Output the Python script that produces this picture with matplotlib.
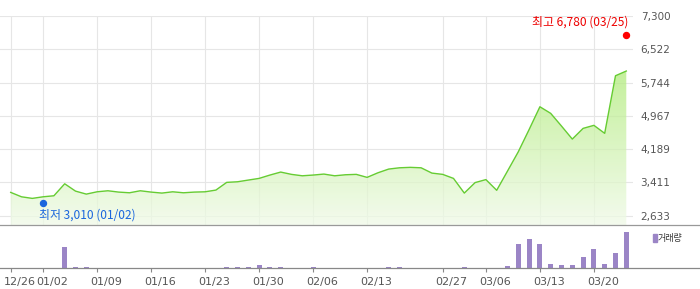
import numpy as np
import matplotlib
matplotlib.use("Agg")
import matplotlib.pyplot as plt
from matplotlib.colors import LinearSegmentedColormap
from matplotlib.patches import Rectangle
from matplotlib.transforms import offset_copy, ScaledTranslation

plt.rcParams['font.family'] = ['DejaVu Sans', 'Noto Sans CJK KR']

# trading days shown on the chart
dates = ["12/26", "12/27", "12/30", "01/02", "01/03", "01/06", "01/07", "01/08",
         "01/09", "01/10", "01/13", "01/14", "01/15", "01/16", "01/17", "01/20",
         "01/21", "01/22", "01/23", "01/24", "01/27", "01/28", "01/29", "01/30",
         "01/31", "02/03", "02/04", "02/05", "02/06", "02/07", "02/10", "02/11",
         "02/12", "02/13", "02/14", "02/17", "02/18", "02/24", "02/25", "02/26",
         "02/27", "02/28", "03/04", "03/05", "03/06", "03/07", "03/10", "03/11",
         "03/12", "03/13", "03/14", "03/17", "03/18", "03/19", "03/20", "03/21",
         "03/24", "03/25"]

close = [3178, 3075, 3038, 3075, 3099, 3379, 3208, 3138, 3192, 3216,
         3185, 3169, 3216, 3185, 3162, 3192, 3169, 3185, 3192, 3232,
         3412, 3426, 3466, 3505, 3583, 3653, 3599, 3566, 3583, 3606,
         3566, 3590, 3599, 3529, 3636, 3723, 3753, 3763, 3753, 3629,
         3599, 3505, 3162, 3407, 3477, 3227, 3676, 4127, 4646, 5179,
         5025, 4728, 4424, 4674, 4745, 4558, 5904, 6014]

volume = [0, 0, 0, 0, 0, 213, 13, 13, 0, 0,
          0, 0, 0, 0, 0, 0, 0, 0, 0, 0,
          13, 13, 13, 33, 13, 13, 0, 0, 13, 0,
          0, 0, 0, 0, 0, 13, 13, 0, 0, 0,
          0, 0, 13, 0, 0, 0, 23, 243, 293, 243,
          43, 33, 33, 113, 193, 43, 153, 363]

tick_labels = ["12/26", "01/02", "01/09", "01/16", "01/23", "01/30",
               "02/06", "02/13", "02/27", "03/06", "03/13", "03/20"]
y_labels = [2633, 3411, 4189, 4967, 5744, 6522, 7300]

low_val, low_date = 3010, "01/02"
high_val, high_date = 6780, "03/25"

W, H = 700, 289
fig = plt.figure(figsize=(W / 100, H / 100), dpi=100)

x = np.arange(len(dates))
ticks = [dates.index(t) for t in tick_labels]
step = 10.8
x0 = -0.99

ax = fig.add_axes([0, (H - 225) / H, 633 / W, 209 / H])
ax.set_xlim(x0, x0 + 633 / step)
ax.set_ylim(2416, 7300)

grid_c = '#e6e6e6'
for t in ticks:
    ax.axvline(t, color=grid_c, lw=0.8, zorder=0)
for v in y_labels:
    ax.axhline(v, color=grid_c, lw=0.8, zorder=0)

# gradient area under the line
cmap = LinearSegmentedColormap.from_list('g', [(240/255, 250/255, 232/255), (154/255, 230/255, 83/255)])
poly = ax.fill_between(x, close, 2416, facecolor='none', edgecolor='none')
grad = np.linspace(0, 1, 256).reshape(-1, 1)
im = ax.imshow(grad, extent=[x0, x0 + 633 / step, 2416, 7300], origin='lower',
               aspect='auto', cmap=cmap, alpha=0.75, zorder=1)
im.set_clip_path(poly.get_paths()[0], transform=ax.transData)
ax.plot(x, close, color='#66cc33', lw=1.0, zorder=3)

# high / low markers
lo_i = dates.index(low_date)
hi_i = dates.index(high_date)
ax.plot(lo_i, low_val, 'o', color='#1a66dd', ms=4.3, zorder=4,
        transform=offset_copy(ax.transData, fig=fig, y=-3, units='dots'))
ax.plot(hi_i, high_val, 'o', color='#ff0000', ms=4.3, zorder=4,
        transform=offset_copy(ax.transData, fig=fig, y=3, units='dots'))
ax.annotate(f"최저 {low_val:,} ({low_date})", (lo_i, low_val), xytext=(-4, -15),
            textcoords='offset pixels', ha='left', va='center', fontsize=8.6,
            color='#1a66dd', family=['Noto Sans CJK KR', 'DejaVu Sans'])
ax.annotate(f"최고 {high_val:,} ({high_date})", (hi_i, high_val), xytext=(2, 16),
            textcoords='offset pixels', ha='right', va='center', fontsize=8.6,
            color='#ee0000', family=['Noto Sans CJK KR', 'DejaVu Sans'])

ax.set_xticks([])
ax.yaxis.tick_right()
ax.set_yticks(y_labels)
ax.set_yticklabels([f"{v:,}" for v in y_labels])
ax.tick_params(axis='y', length=0, pad=5.5, labelsize=7.5, labelcolor='#555555')
for s in ax.spines.values():
    s.set_visible(False)

# volume panel
vx = fig.add_axes([0, (H - 268.3) / H, 1, 43.3 / H])
vx.set_xlim(x0, x0 + W / step)
vx.set_ylim(0, 433)
vx.bar(x, volume, width=0.45, color='#9b85c6')
vx.set_yticks([])
vx.set_xticks(ticks)
vx.set_xticklabels(tick_labels)
vx.tick_params(axis='x', length=3, width=0.8, color='#888888', pad=3,
               labelsize=8, labelcolor='#555555')
shift = ScaledTranslation(9 / 100, 0, fig.dpi_scale_trans)
for lab in vx.get_xticklabels():
    lab.set_transform(lab.get_transform() + shift)
for k in ['left', 'right']:
    vx.spines[k].set_visible(False)
vx.spines['top'].set_color('#999999')
vx.spines['bottom'].set_color('#888888')
vx.spines['top'].set_linewidth(0.9)
vx.spines['bottom'].set_linewidth(0.9)
vx.patch.set_alpha(0)

fig.add_artist(Rectangle((653 / W, 1 - 242 / H), 3.5 / W, 8 / H,
                         transform=fig.transFigure, color='#9b85c6'))
fig.text(658 / W, 1 - 238 / H, "거래량", fontsize=6.5, va='center', ha='left',
         color='#333333', family=['Noto Sans CJK KR', 'DejaVu Sans'])

fig.savefig("out.png", dpi=100)
